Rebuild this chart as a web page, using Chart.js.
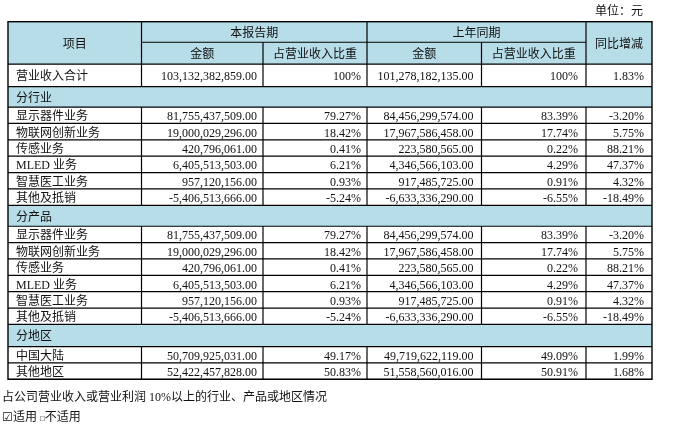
<!DOCTYPE html>
<html>
<head>
<meta charset="utf-8">
<script src="https://cdn.jsdelivr.net/npm/chart.js@4/dist/chart.umd.min.js"></script>
<style>
  html, body { margin: 0; padding: 0; background: #fff; }
  #wrap { position: relative; width: 681px; height: 429px; }
  .note { position: absolute; font: 12px 'Liberation Serif', 'Noto Sans CJK SC', serif; color: #111; white-space: nowrap; line-height: 14px; }
</style>
</head>
<body>
<div id="wrap">
  <canvas id="revenue_table"></canvas>
  <div class="note" style="right:38px; top:4px;">单位：元</div>
  <div class="note" style="left:2px; top:390px;">占公司营业收入或营业利润 10%以上的行业、产品或地区情况</div>
  <div class="note" style="left:2px; top:410px;">☑适用 <span style="font-size:8px;">□</span>不适用</div>
</div>
<script>
// 表头
const headTop = ['项目', '本报告期', '上年同期', '同比增减'];
const headSub = ['金额', '占营业收入比重', '金额', '占营业收入比重'];

// 营业收入合计
const totalLabel = '营业收入合计';
const totalCur = 103132382859.00;
const totalCurShare = 100;
const totalPrev = 101278182135.00;
const totalPrevShare = 100;
const totalYoY = 1.83;

// 分行业
const industryNames = ['显示器件业务', '物联网创新业务', '传感业务', 'MLED 业务', '智慧医工业务', '其他及抵销'];
const industryCur = [81755437509.00, 19000029296.00, 420796061.00, 6405513503.00, 957120156.00, -5406513666.00];
const industryCurShare = [79.27, 18.42, 0.41, 6.21, 0.93, -5.24];
const industryPrev = [84456299574.00, 17967586458.00, 223580565.00, 4346566103.00, 917485725.00, -6633336290.00];
const industryPrevShare = [83.39, 17.74, 0.22, 4.29, 0.91, -6.55];
const industryYoY = [-3.20, 5.75, 88.21, 47.37, 4.32, -18.49];

// 分产品
const productNames = ['显示器件业务', '物联网创新业务', '传感业务', 'MLED 业务', '智慧医工业务', '其他及抵销'];
const productCur = [81755437509.00, 19000029296.00, 420796061.00, 6405513503.00, 957120156.00, -5406513666.00];
const productCurShare = [79.27, 18.42, 0.41, 6.21, 0.93, -5.24];
const productPrev = [84456299574.00, 17967586458.00, 223580565.00, 4346566103.00, 917485725.00, -6633336290.00];
const productPrevShare = [83.39, 17.74, 0.22, 4.29, 0.91, -6.55];
const productYoY = [-3.20, 5.75, 88.21, 47.37, 4.32, -18.49];

// 分地区
const regionNames = ['中国大陆', '其他地区'];
const regionCur = [50709925031.00, 52422457828.00];
const regionCurShare = [49.17, 50.83];
const regionPrev = [49719622119.00, 51558560016.00];
const regionPrevShare = [49.09, 50.91];
const regionYoY = [1.99, 1.68];

// layout (table units on the x / y scales)
const COL_EDGES = [0, 133.5, 255, 359, 473.5, 578, 644];
const COL_PAD = [8, 6, 6, 8, 8, 8];
const HEAD_H = [20.6, 22];
const TOTAL_H = 22.4;
const SECTION_H = [20.6, 21, 22.2];
const ROW_H = 16.4;
const BLUE = '#b7dde8';
const INK = '#111';
const FONT = "12px 'Liberation Serif', 'Noto Sans CJK SC', serif";
const BASE_SHIFT = 5; // baseline below cell centre

function money(v) {
    return v.toLocaleString('en-US', { minimumFractionDigits: 2, maximumFractionDigits: 2 });
}
function pct(v) {
    return v === 100 ? '100%' : v.toFixed(2) + '%';
}

// build body rows
let rows = [];
rows.push({ kind: 'data', h: TOTAL_H, cells: [totalLabel, money(totalCur), pct(totalCurShare), money(totalPrev), pct(totalPrevShare), pct(totalYoY)] });
let sections = [
    ['分行业', industryNames, industryCur, industryCurShare, industryPrev, industryPrevShare, industryYoY],
    ['分产品', productNames, productCur, productCurShare, productPrev, productPrevShare, productYoY],
    ['分地区', regionNames, regionCur, regionCurShare, regionPrev, regionPrevShare, regionYoY],
];
sections.forEach((s, si) => {
    rows.push({ kind: 'section', h: SECTION_H[si], label: s[0] });
    s[1].forEach((name, i) => {
        rows.push({ kind: 'data', h: ROW_H, cells: [name, money(s[2][i]), pct(s[3][i]), money(s[4][i]), pct(s[5][i]), pct(s[6][i])] });
    });
});
let headH = HEAD_H[0] + HEAD_H[1];
let tableH = headH + rows.reduce((a, r) => a + r.h, 0);

const tablePlugin = {
    id: 'revenueTable',
    afterDraw(chart) {
        let ctx = chart.ctx;
        let xs = chart.scales.x, ys = chart.scales.y;
        let X = i => xs.getPixelForValue(COL_EDGES[i]);
        let Y = v => ys.getPixelForValue(v);
        let nc = COL_EDGES.length - 1;

        ctx.save();
        // fills
        ctx.fillStyle = BLUE;
        ctx.fillRect(X(0), Y(0), X(nc) - X(0), Y(headH) - Y(0));
        let top = headH;
        rows.forEach(r => {
            r.top = top;
            if (r.kind === 'section') {
                ctx.fillRect(X(0), Y(top), X(nc) - X(0), Y(top + r.h) - Y(top));
            }
            top += r.h;
        });

        // lines
        ctx.strokeStyle = '#000';
        ctx.lineWidth = 1.2;
        let line = (x1, y1, x2, y2) => { ctx.beginPath(); ctx.moveTo(x1, y1); ctx.lineTo(x2, y2); ctx.stroke(); };
        line(X(1), Y(HEAD_H[0]), X(5), Y(HEAD_H[0]));
        [1, 3, 5].forEach(c => line(X(c), Y(0), X(c), Y(headH)));
        [2, 4].forEach(c => line(X(c), Y(HEAD_H[0]), X(c), Y(headH)));
        line(X(0), Y(headH), X(nc), Y(headH));
        rows.forEach(r => {
            line(X(0), Y(r.top + r.h), X(nc), Y(r.top + r.h));
            if (r.kind === 'data') {
                for (let c = 1; c < nc; c++) line(X(c), Y(r.top), X(c), Y(r.top + r.h));
            }
        });
        ctx.lineWidth = 1.4;
        ctx.strokeRect(X(0), Y(0), X(nc) - X(0), Y(tableH) - Y(0));

        // text
        ctx.fillStyle = INK;
        ctx.font = FONT;
        ctx.textBaseline = 'alphabetic';
        ctx.textAlign = 'center';
        let mid = (a, b) => (a + b) / 2;
        ctx.fillText(headTop[0], mid(X(0), X(1)), Y(headH / 2) + BASE_SHIFT);
        ctx.fillText(headTop[1], mid(X(1), X(3)), Y(HEAD_H[0] / 2) + BASE_SHIFT);
        ctx.fillText(headTop[2], mid(X(3), X(5)), Y(HEAD_H[0] / 2) + BASE_SHIFT);
        ctx.fillText(headTop[3], mid(X(5), X(6)), Y(headH / 2) + BASE_SHIFT);
        headSub.forEach((t, i) => ctx.fillText(t, mid(X(i + 1), X(i + 2)), Y(HEAD_H[0] + HEAD_H[1] / 2) + BASE_SHIFT));

        rows.forEach(r => {
            let cy = Y(r.top + r.h / 2) + BASE_SHIFT;
            if (r.kind === 'section') {
                ctx.textAlign = 'left';
                ctx.fillText(r.label, X(0) + COL_PAD[0], cy);
                return;
            }
            r.cells.forEach((t, c) => {
                if (c === 0) {
                    ctx.textAlign = 'left';
                    ctx.fillText(t, X(0) + COL_PAD[0], cy);
                } else {
                    ctx.textAlign = 'right';
                    ctx.fillText(t, X(c + 1) - COL_PAD[c], cy);
                }
            });
        });
        ctx.restore();
    }
};

let config = {
    type: 'scatter',
    data: { datasets: [{ data: [] }] },
    options: {
        responsive: true,
        maintainAspectRatio: false,
        animation: false,
        events: [],
        layout: { padding: { left: 8, top: 21.7, right: 29, bottom: 49.7 } },
        plugins: { legend: { display: false }, tooltip: { enabled: false } },
        scales: {
            x: { type: 'linear', min: 0, max: COL_EDGES[COL_EDGES.length - 1], display: false },
            y: { type: 'linear', min: 0, max: tableH, reverse: true, display: false }
        }
    },
    plugins: [tablePlugin]
};

let revenue_chart = new Chart(document.getElementById('revenue_table'), config);
</script>
</body>
</html>
